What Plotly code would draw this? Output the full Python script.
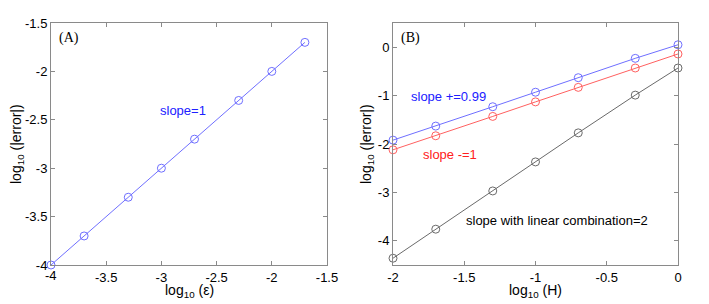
import plotly.graph_objects as go

# Panel A data
eps_log = [-4.0, -3.7, -3.3, -3.0, -2.7, -2.3, -2.0, -1.7]
err_a = [-4.0, -3.7, -3.3, -3.0, -2.7, -2.3, -2.0, -1.7]

# Panel B data
h_log = [-2.0, -1.7, -1.3, -1.0, -0.7, -0.3, 0.0]
err_plus = [-1.92, -1.63, -1.23, -0.93, -0.63, -0.23, 0.05]
err_minus = [-2.12, -1.83, -1.43, -1.13, -0.83, -0.43, -0.14]
err_comb = [-4.36, -3.76, -2.97, -2.37, -1.77, -0.99, -0.43]

# the -4 label at panel A's corner is drawn as an annotation (plotly hides it there)
xticks_a = [-3.5, -3, -2.5, -2, -1.5]
xticklabels_a = ["-3.5", "-3", "-2.5", "-2", "-1.5"]
corner_tick_a = -4
corner_label_a = "-4"
yticks_a = [-4, -3.5, -3, -2.5, -2, -1.5]
yticklabels_a = ["-4", "-3.5", "-3", "-2.5", "-2", "-1.5"]
xticks_b = [-2, -1.5, -1, -0.5, 0]
xticklabels_b = ["-2", "-1.5", "-1", "-0.5", "0"]
yticks_b = [-4, -3, -2, -1, 0]
yticklabels_b = ["-4", "-3", "-2", "-1", "0"]

xtitle_a = "log<sub>10</sub> (ε)"
xtitle_b = "log<sub>10</sub> (H)"
ytitle = "log<sub>10</sub> (|error|)"

BLUE = "#6f6fff"
RED = "#ff6060"
GRAY = "#6a6a6a"
FONT = "Liberation Sans, Arial, sans-serif"

# The page body adds an 8px margin; the figure is sized to fill the rest of the window.
W, H, OFF = 701, 296, 8

def xd(px):
    return (px - OFF) / W

def yd(px):
    return 1 - (px - OFF) / H

fig = go.Figure()

def line(x, y, color, xa, ya):
    return go.Scatter(x=x, y=y, mode="lines+markers", xaxis=xa, yaxis=ya,
                      line=dict(color=color, width=1),
                      marker=dict(symbol="circle-open", size=8, color=color, line=dict(width=1, color=color)),
                      showlegend=False, hoverinfo="skip", cliponaxis=False)

fig.add_trace(line(eps_log, err_a, BLUE, "x", "y"))
fig.add_trace(line(h_log, err_plus, BLUE, "x2", "y2"))
fig.add_trace(line(h_log, err_minus, RED, "x2", "y2"))
fig.add_trace(line(h_log, err_comb, GRAY, "x2", "y2"))

axis_common = dict(showgrid=False, zeroline=False, showline=True, linecolor="#8a8a8a", linewidth=1,
                   mirror="ticks", ticks="inside", ticklen=4, tickcolor="#8a8a8a", automargin=False,
                   tickfont=dict(family=FONT, size=13, color="black"))

title_font = dict(family=FONT, size=14, color="black")
ydom = [yd(265), yd(23)]
fig.update_layout(
    width=W, height=H,
    margin=dict(l=0, r=0, t=0, b=0),
    paper_bgcolor="white", plot_bgcolor="white",
    xaxis=dict(domain=[xd(51), xd(327)], range=[-4, -1.5], tickvals=xticks_a, ticktext=xticklabels_a,
               anchor="y", **axis_common),
    yaxis=dict(domain=ydom, range=[-4, -1.5], tickvals=yticks_a, ticktext=yticklabels_a,
               anchor="x", **axis_common),
    xaxis2=dict(domain=[xd(393), xd(678)], range=[-2, 0], tickvals=xticks_b, ticktext=xticklabels_b,
                anchor="y2", **axis_common),
    yaxis2=dict(domain=ydom, range=[-4.5, 0.5], tickvals=yticks_b, ticktext=yticklabels_b,
                anchor="x2", **axis_common),
)

ann = [
    # axis titles
    dict(text=xtitle_a, xref="x domain", yref="paper", x=0.5, y=yd(291), yanchor="middle", font=title_font,
         borderpad=0),
    dict(text=xtitle_b, xref="x2 domain", yref="paper", x=0.5, y=yd(291), yanchor="middle", font=title_font,
         borderpad=0),
    dict(text=ytitle, xref="paper", yref="y domain", x=xd(17), y=0.5, xanchor="center", textangle=-90,
         font=title_font, borderpad=0),
    dict(text=ytitle, xref="paper", yref="y2 domain", x=xd(367), y=0.5, xanchor="center", textangle=-90,
         font=title_font, borderpad=0),
    # corner tick label
    dict(text=corner_label_a, xref="x", yref="y domain", x=corner_tick_a, y=0, yanchor="top", yshift=-1,
         font=dict(family=FONT, size=13, color="black")),
    # panel labels
    dict(text="(A)", xref="x domain", yref="y domain", x=0.02, y=0.98, xanchor="left", yanchor="top",
         font=dict(family="Liberation Serif, Times New Roman, serif", size=14, color="black")),
    dict(text="(B)", xref="x2 domain", yref="y2 domain", x=0.02, y=0.98, xanchor="left", yanchor="top",
         font=dict(family="Liberation Serif, Times New Roman, serif", size=14, color="black")),
    # slope notes
    dict(text="slope=1", xref="x", yref="y", x=-2.80, y=-2.40,
         font=dict(family=FONT, size=13, color="#2020ff")),
    dict(text="slope +=0.99", xref="x2", yref="y2", x=-1.61, y=-1.01,
         font=dict(family=FONT, size=13, color="#2020ff")),
    dict(text="slope -=1", xref="x2", yref="y2", x=-1.60, y=-2.21,
         font=dict(family=FONT, size=13, color="#ff2020")),
    dict(text="slope with linear combination=2", xref="x2", yref="y2", x=-0.85, y=-3.58,
         font=dict(family=FONT, size=13, color="black")),
]
for a in ann:
    a["showarrow"] = False
fig.update_layout(annotations=ann)

fig.write_html("out.html")
